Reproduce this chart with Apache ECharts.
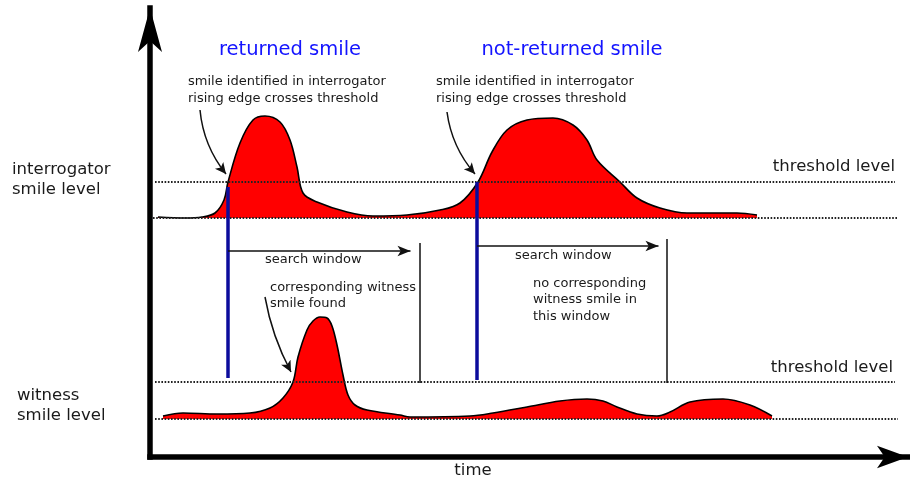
<!DOCTYPE html>
<html>
<head>
<meta charset="utf-8">
<script src="https://cdn.jsdelivr.net/npm/echarts@6/dist/echarts.min.js"></script>
<style>html,body{margin:0;padding:0;background:#fff}#c{width:910px;height:480px}</style>
</head>
<body>
<div id="c"></div>
<script>
// ---- data (time units along x, level units along y) ----
const interrogatorTime  = [8, 35, 52, 65, 74, 78, 90, 103, 115, 130, 140, 147, 153, 167, 197, 223, 257, 290, 310, 328, 342, 357, 377, 403, 423, 437, 447, 470, 487, 510, 537, 587, 607];
const interrogatorLevel = [240, 239, 240, 244, 257, 275, 314, 337, 341, 335, 317, 290, 264, 255, 245, 241, 242, 247, 254, 275, 305, 327, 337, 339, 332, 317, 297, 275, 259, 249, 244, 244, 242];
const witnessTime  = [13, 33, 67, 100, 120, 133, 143, 148, 157, 163, 170, 177, 182, 187, 193, 198, 205, 217, 250, 260, 320, 343, 377, 410, 437, 453, 467, 487, 507, 520, 540, 573, 600, 622];
const witnessLevel = [41, 44, 43, 44, 49, 59, 75, 100, 127, 136, 140, 139, 131, 112, 82, 62, 52, 47, 42, 40, 41, 44, 50, 56, 58, 56, 50, 43, 41, 45, 55, 58, 52, 41];

const interrogatorBaseline = 239;
const interrogatorThreshold = 275;
const witnessBaseline = 38;
const witnessThreshold = 75;

// smile detection events: time of threshold crossing and end of search window
const detectionTimes = [78, 327];
const windowEndTimes = [270, 517];

const titles = ['returned smile', 'not-returned smile'];
const detectionNote = 'smile identified in interrogator\nrising edge crosses threshold';
const searchLabel = 'search window';
const foundNote = 'corresponding witness\nsmile found';
const notFoundNote = 'no corresponding\nwitness smile in\nthis window';
const rowLabels = ['interrogator\nsmile level', 'witness\nsmile level'];
const thresholdLabel = 'threshold level';
const timeLabel = 'time';

// ---- build ----
const zip = (a, b) => a.map((v, i) => [v, b[i]]);
const FONT = 'DejaVu Sans';
const TXT = '#1a1a1a';

function txt(name, value, label) {
  return { name, value, label: Object.assign({ fontFamily: FONT, color: TXT, fontSize: 13 }, label) };
}

const dotted = { type: [1.6, 1.6], width: 1.8, color: '#222', opacity: 1 };

const option = {
  animation: false,
  grid: { left: 150, right: 2, top: 8, bottom: 23 },
  xAxis: {
    type: 'value', min: 0, max: 758,
    axisLine: { show: true, symbol: ['none', 'arrow'], symbolSize: [17, 31], lineStyle: { color: '#000', width: 5.5, cap: 'square' } },
    axisTick: { show: false }, axisLabel: { show: false }, splitLine: { show: false }
  },
  yAxis: {
    type: 'value', min: 0, max: 449,
    axisLine: { show: true, symbol: ['none', 'arrow'], symbolSize: [18, 44], lineStyle: { color: '#000', width: 5.5, cap: 'square' } },
    axisTick: { show: false }, axisLabel: { show: false }, splitLine: { show: false }
  },
  series: [
    {
      name: 'interrogator', type: 'line', z: 2, smooth: 0.35, showSymbol: false,
      data: zip(interrogatorTime, interrogatorLevel),
      lineStyle: { color: '#000', width: 1.6 },
      areaStyle: { color: '#ff0000', opacity: 1, origin: interrogatorBaseline }
    },
    {
      name: 'witness', type: 'line', z: 2, smooth: 0.35, showSymbol: false,
      data: zip(witnessTime, witnessLevel),
      lineStyle: { color: '#000', width: 1.6 },
      areaStyle: { color: '#ff0000', opacity: 1, origin: witnessBaseline }
    },
    {
      name: 'levels', type: 'lines', coordinateSystem: 'cartesian2d', z: 4, clip: false,
      lineStyle: dotted,
      data: [
        { coords: [[5, interrogatorThreshold], [745, interrogatorThreshold]] },
        { coords: [[3, interrogatorBaseline], [748, interrogatorBaseline]] },
        { coords: [[5, witnessThreshold], [745, witnessThreshold]] },
        { coords: [[5, witnessBaseline], [748, witnessBaseline]] }
      ]
    },
    {
      name: 'detections', type: 'lines', coordinateSystem: 'cartesian2d', z: 5,
      lineStyle: { color: '#0c0c9c', width: 3.5, opacity: 1 },
      data: [
        { coords: [[detectionTimes[0], 270], [detectionTimes[0], 79]] },
        { coords: [[detectionTimes[1], interrogatorThreshold], [detectionTimes[1], 77]] }
      ]
    },
    {
      name: 'windowEnds', type: 'lines', coordinateSystem: 'cartesian2d', z: 5,
      lineStyle: { color: '#111', width: 1.5, opacity: 1 },
      data: [
        { coords: [[windowEndTimes[0], 214], [windowEndTimes[0], 74]] },
        { coords: [[windowEndTimes[1], 218], [windowEndTimes[1], 74]] }
      ]
    },
    {
      name: 'windowArrows', type: 'lines', coordinateSystem: 'cartesian2d', z: 5,
      symbol: ['none', 'arrow'], symbolSize: [1, [8, 13]],
      lineStyle: { color: '#111', width: 1.5, opacity: 1 },
      data: [
        { coords: [[detectionTimes[0], 206], [windowEndTimes[0] - 9.5, 206]] },
        { coords: [[detectionTimes[1], 211], [windowEndTimes[1] - 8.5, 211]] }
      ]
    },
    {
      name: 'pointers', type: 'lines', coordinateSystem: 'cartesian2d', z: 6,
      symbol: ['none', 'arrow'], symbolSize: [1, [8, 11]],
      lineStyle: { color: '#111', width: 1.5, curveness: -0.15, opacity: 1 },
      data: [
        { coords: [[50, 347], [76, 283]] },
        { coords: [[297, 345], [325, 283]] },
        { coords: [[115, 160], [141, 85]], lineStyle: { curveness: -0.08 } }
      ]
    },
    {
      name: 'texts', type: 'scatter', z: 10, clip: false, symbolSize: 1,
      itemStyle: { color: 'rgba(0,0,0,0)', opacity: 1 },
      label: { show: true, position: 'inside', formatter: '{b}', verticalAlign: 'middle' },
      data: [
        txt(titles[0], [140, 407], { align: 'center', fontSize: 19.5, color: '#1414ff' }),
        txt(titles[1], [422, 407], { align: 'center', fontSize: 19.5, color: '#1414ff' }),
        txt(detectionNote, [38, 366.5], { align: 'left', lineHeight: 17 }),
        txt(detectionNote, [286, 366.5], { align: 'left', lineHeight: 17 }),
        txt(rowLabels[0], [-138, 277], { align: 'left', fontSize: 16.5, lineHeight: 20 }),
        txt(rowLabels[1], [-133, 51], { align: 'left', fontSize: 16.5, lineHeight: 20 }),
        txt(thresholdLabel, [745, 290], { align: 'right', fontSize: 16.5 }),
        txt(thresholdLabel, [743, 89], { align: 'right', fontSize: 16.5 }),
        txt(searchLabel, [115, 197], { align: 'left' }),
        txt(searchLabel, [365, 201], { align: 'left' }),
        txt(foundNote, [120, 161], { align: 'left', lineHeight: 16 }),
        txt(notFoundNote, [383, 157], { align: 'left', lineHeight: 16.5 }),
        txt(timeLabel, [323, -14], { align: 'center', fontSize: 16.5 })
      ]
    }
  ]
};

const chart = echarts.init(document.getElementById('c'), null, { renderer: 'canvas' });
chart.setOption(option);
</script>
</body>
</html>
